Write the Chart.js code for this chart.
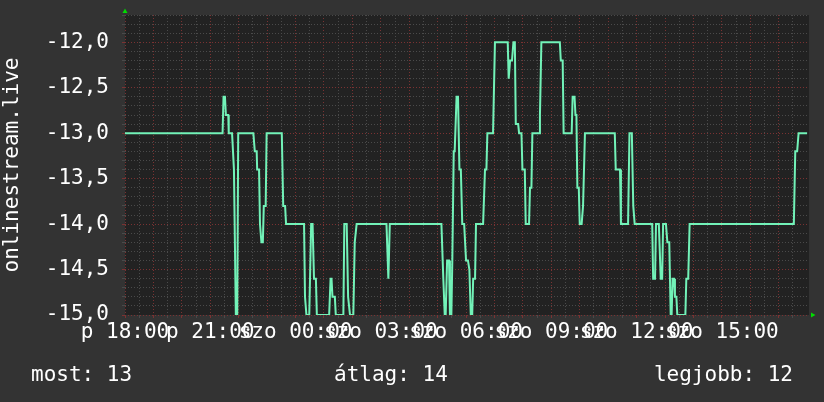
<!DOCTYPE html>
<html lang="hu">
<head>
<meta charset="utf-8">
<title>onlinestream.live</title>
<script src="https://cdn.jsdelivr.net/npm/chart.js@4.4.1/dist/chart.umd.min.js"></script>
<style>
  html, body { margin: 0; padding: 0; background: #333333; }
  #wrap { width: 824px; height: 402px; }
</style>
</head>
<body>
<div id="wrap"><canvas id="grafikon" width="824" height="402"></canvas></div>
<script>
// ── Adatok: percek péntek 18:00 óta, helyezés (negatív) ──────────────────────
const perc = [
    0, 206, 208, 211, 213, 218, 219, 226, 230, 234, 237, 239,
    271, 274, 278, 279, 283, 285, 288, 291, 293, 297, 299,
    331, 334, 338, 340, 378, 380, 382, 383, 389, 393, 396, 399, 403, 405,
    431, 434, 436, 438, 443, 445, 461, 463, 468, 471, 475, 482, 485, 489,
    552, 556, 559, 668, 672, 675, 677, 680, 684, 686, 689, 691, 694, 696,
    700, 703, 706, 709, 712, 716, 720, 724, 727, 730, 733, 735, 739, 741,
    756, 760, 763, 765, 777, 781, 808, 810, 813, 817, 820, 823, 825, 830,
    832, 837, 839, 844, 846, 853, 855, 858, 860, 874, 876, 879, 918, 920,
    924, 926, 943, 945, 949, 951, 953, 955, 958, 960, 964, 967, 971,
    1034, 1036, 1045, 1047, 1062, 1065, 1070, 1073, 1076, 1113, 1115, 1119,
    1121, 1127, 1131, 1134, 1136, 1142, 1145, 1149, 1152, 1154, 1156, 1159,
    1161, 1164, 1166, 1183, 1185, 1189, 1192, 1412, 1415, 1419, 1422, 1440
];
const ertek = [
    -13.0, -13.0, -12.6, -12.6, -12.8, -12.8, -13.0, -13.0, -13.4, -15.0, -15.0, -13.0,
    -13.0, -13.2, -13.2, -13.4, -13.4, -14.0, -14.2, -14.2, -13.8, -13.8, -13.0,
    -13.0, -13.8, -13.8, -14.0, -14.0, -14.8, -14.8, -15.0, -15.0, -14.0, -14.0, -14.6, -14.6, -15.0,
    -15.0, -14.6, -14.6, -14.8, -14.8, -15.0, -15.0, -14.0, -14.0, -14.8, -15.0, -15.0, -14.2, -14.0,
    -14.0, -14.6, -14.0, -14.0, -14.6, -15.0, -15.0, -14.4, -14.4, -15.0, -15.0, -14.4, -13.2, -13.2,
    -12.6, -12.6, -13.4, -13.4, -14.0, -14.0, -14.4, -14.4, -14.5, -15.0, -15.0, -14.6, -14.6, -14.0,
    -14.0, -13.4, -13.4, -13.0, -13.0, -12.0, -12.0, -12.4, -12.2, -12.2, -12.0, -12.0, -12.9, -12.9,
    -13.0, -13.0, -13.4, -13.4, -14.0, -14.0, -13.6, -13.6, -13.0, -13.0, -12.8, -12.0, -12.0, -12.2,
    -12.2, -13.0, -13.0, -12.6, -12.6, -12.8, -12.8, -13.6, -13.6, -14.0, -14.0, -13.8, -13.0,
    -13.0, -13.4, -13.4, -14.0, -14.0, -13.0, -13.0, -13.8, -14.0, -14.0, -14.6, -14.6,
    -14.0, -14.0, -14.6, -14.6, -14.0, -14.0, -14.2, -14.2, -15.0, -15.0, -14.6, -14.6,
    -14.8, -14.8, -15.0, -15.0, -14.6, -14.6, -14.0, -14.0, -13.2, -13.2, -13.0, -13.0
];
const idoCimkek = ['p 18:00', 'p 21:00', 'szo 00:00', 'szo 03:00', 'szo 06:00', 'szo 09:00', 'szo 12:00', 'szo 15:00'];
const osszegzesNevek   = ['most', 'átlag', 'legjobb'];
const osszegzesErtekek = [13, 14, 12];
const sorozatNeve = 'onlinestream.live';

const BETU = '"DejaVu Sans Mono", monospace';
const RACS   = '#4a4a4a';
const FORACS = '#7a3232';

// ── Háttér, nyilak, összegzés ────────────────────────────────────────────────
const rrdKeret = {
    id: 'rrdKeret',
    beforeDraw(chart) {
        const { ctx, chartArea: a } = chart;
        ctx.save();
        ctx.fillStyle = '#333333';
        ctx.fillRect(0, 0, chart.width, chart.height);
        ctx.fillStyle = '#222222';
        ctx.fillRect(a.left, a.top, a.right - a.left, a.bottom - a.top);
        ctx.restore();
    },
    afterDraw(chart) {
        const { ctx, chartArea: a } = chart;
        ctx.save();
        ctx.fillStyle = '#00dd00';
        ctx.beginPath();
        ctx.moveTo(a.left - 2.5, a.top - 2);
        ctx.lineTo(a.left + 2.5, a.top - 2);
        ctx.lineTo(a.left, a.top - 6.5);
        ctx.fill();
        ctx.beginPath();
        ctx.moveTo(a.right + 2, a.bottom - 2.5);
        ctx.lineTo(a.right + 2, a.bottom + 2.5);
        ctx.lineTo(a.right + 6.5, a.bottom);
        ctx.fill();

        ctx.font = '21px ' + BETU;
        ctx.fillStyle = '#ffffff';
        ctx.textBaseline = 'alphabetic';
        const szoveg = osszegzesNevek.map((n, i) => n + ': ' + osszegzesErtekek[i]);
        ctx.textAlign = 'left';
        ctx.fillText(szoveg[0], 31, 381);
        ctx.fillText(szoveg[1], 334, 381);
        ctx.textAlign = 'right';
        ctx.fillText(szoveg[2], 793, 381);
        ctx.restore();
    }
};

const foVonal = v => Math.abs(v * 2 - Math.round(v * 2)) < 1e-6;

new Chart(document.getElementById('grafikon'), {
    type: 'line',
    data: {
        datasets: [{
            label: sorozatNeve,
            data: perc.map((p, i) => ({ x: p, y: ertek[i] })),
            borderColor: '#72f2b8',
            borderWidth: 2,
            pointRadius: 0,
            tension: 0,
            fill: false,
        }]
    },
    options: {
        responsive: false,
        animation: false,
        devicePixelRatio: 1,
        layout: { padding: { top: 15, right: 15, left: 0, bottom: 0 } },
        plugins: { legend: { display: false }, tooltip: { enabled: false } },
        scales: {
            x: {
                type: 'linear',
                min: 0,
                max: 1444,
                afterBuildTicks: s => {
                    const t = [];
                    for (let m = 0; m <= 1440; m += 30) t.push({ value: m });
                    s.ticks = t;
                },
                afterFit: s => {
                    s.height = 87;
                    s.paddingLeft = 0;
                    s.paddingRight = 0;
                },
                border: { display: false, dash: [1, 2] },
                grid: {
                    color: c => c.tick.value % 60 === 0 ? FORACS : RACS,
                    tickColor: c => c.tick.value % 60 === 0 ? FORACS : RACS,
                    tickLength: 3,
                },
                ticks: {
                    autoSkip: false,
                    maxRotation: 0,
                    minRotation: 0,
                    padding: 2,
                    color: '#ffffff',
                    font: { family: BETU, size: 21 },
                    callback: v => v % 180 === 0 ? idoCimkek[v / 180] : '',
                }
            },
            y: {
                min: -15,
                max: -11.7,
                afterBuildTicks: s => {
                    const t = [];
                    for (let k = -150; k <= -117; k++) t.push({ value: k / 10 });
                    s.ticks = t;
                },
                afterFit: s => {
                    s.width = 125;
                    s.paddingTop = 0;
                    s.paddingBottom = 0;
                },
                border: { display: false, dash: [1, 2] },
                grid: {
                    color: c => foVonal(c.tick.value) ? FORACS : RACS,
                    tickColor: c => foVonal(c.tick.value) ? FORACS : RACS,
                    tickLength: 3,
                },
                title: {
                    display: true,
                    text: sorozatNeve,
                    color: '#ffffff',
                    font: { family: BETU, size: 21 },
                    padding: 0,
                },
                ticks: {
                    autoSkip: false,
                    padding: 13,
                    color: '#ffffff',
                    font: { family: BETU, size: 21 },
                    callback: v => foVonal(v) ? v.toFixed(1).replace('.', ',') : '',
                }
            }
        }
    },
    plugins: [rrdKeret]
});
</script>
</body>
</html>
